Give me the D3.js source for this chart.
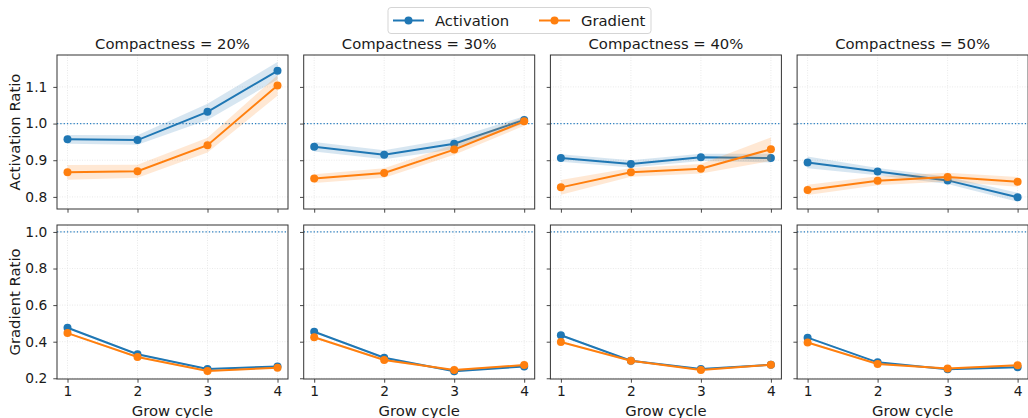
<!DOCTYPE html>
<html>
<head>
<meta charset="utf-8">
<script src="https://cdn.jsdelivr.net/npm/d3@7"></script>
<style>
    body { margin: 0; background: #fff; }
    svg { font-family: "DejaVu Sans", sans-serif; }
</style>
</head>
<body>
<div id="chart"></div>
<script>
// grow cycles and compactness settings
const cycles = [1, 2, 3, 4];
const compactness = ["20%", "30%", "40%", "50%"];
const seriesNames = ["Activation", "Gradient"];

// top row: Activation Ratio (mean and half band width per panel)
const actRatioActivation = [
    [0.957, 0.955, 1.032, 1.144],
    [0.937, 0.915, 0.945, 1.010],
    [0.906, 0.890, 0.908, 0.906],
    [0.894, 0.869, 0.845, 0.799]
];
const actRatioActivationErr = [
    [0.012, 0.013, 0.022, 0.024],
    [0.013, 0.012, 0.015, 0.010],
    [0.010, 0.010, 0.010, 0.012],
    [0.016, 0.010, 0.010, 0.012]
];
const actRatioGradient = [
    [0.867, 0.870, 0.941, 1.104],
    [0.850, 0.865, 0.929, 1.006],
    [0.826, 0.867, 0.877, 0.930],
    [0.819, 0.844, 0.854, 0.841]
];
const actRatioGradientErr = [
    [0.020, 0.018, 0.020, 0.028],
    [0.012, 0.013, 0.014, 0.012],
    [0.020, 0.012, 0.013, 0.032],
    [0.014, 0.012, 0.012, 0.013]
];

// bottom row: Gradient Ratio
const gradRatioActivation = [
    [0.476, 0.331, 0.251, 0.265],
    [0.454, 0.312, 0.238, 0.265],
    [0.435, 0.296, 0.251, 0.274],
    [0.422, 0.287, 0.249, 0.260]
];
const gradRatioActivationErr = [
    [0.005, 0.005, 0.004, 0.004],
    [0.005, 0.005, 0.004, 0.004],
    [0.005, 0.004, 0.004, 0.004],
    [0.005, 0.004, 0.004, 0.004]
];
const gradRatioGradient = [
    [0.447, 0.316, 0.240, 0.258],
    [0.424, 0.300, 0.245, 0.272],
    [0.398, 0.296, 0.245, 0.274],
    [0.396, 0.278, 0.254, 0.271]
];
const gradRatioGradientErr = [
    [0.005, 0.005, 0.004, 0.004],
    [0.005, 0.005, 0.004, 0.004],
    [0.005, 0.004, 0.004, 0.004],
    [0.005, 0.004, 0.004, 0.004]
];

const actRatioTicks = [0.8, 0.9, 1.0, 1.1];
const gradRatioTicks = [0.2, 0.4, 0.6, 0.8, 1.0];

const colors = ["#1f77b4", "#ff7f0e"];

const W = 1028, H = 418;
const svg = d3.select("#chart").append("svg")
    .attr("width", W)
    .attr("height", H);

const panelW = 231, panelStep = 246.7;
const rows = [
    {
        top: 55, height: 154, domain: [0.767, 1.187], ticks: actRatioTicks,
        label: "Activation Ratio",
        series: [[actRatioActivation, actRatioActivationErr], [actRatioGradient, actRatioGradientErr]],
        xLabels: false
    },
    {
        top: 225, height: 154, domain: [0.196, 1.038], ticks: gradRatioTicks,
        label: "Gradient Ratio",
        series: [[gradRatioActivation, gradRatioActivationErr], [gradRatioGradient, gradRatioGradientErr]],
        xLabels: true
    }
];

rows.forEach((row, r) => {
    const y = d3.scaleLinear().domain(row.domain).range([row.top + row.height, row.top]);

    compactness.forEach((comp, p) => {
        const left = 57 + p * panelStep;
        const x = d3.scaleLinear().domain([0.85, 4.15]).range([left, left + panelW]);
        const g = svg.append("g");

        // grid
        g.append("g").selectAll("line.gx")
            .data(cycles).enter().append("line")
            .attr("x1", d => x(d)).attr("x2", d => x(d))
            .attr("y1", row.top).attr("y2", row.top + row.height)
            .attr("stroke", "#e3e3e3").attr("stroke-width", 0.8)
            .attr("stroke-dasharray", "1,1.5");
        g.append("g").selectAll("line.gy")
            .data(row.ticks).enter().append("line")
            .attr("x1", left).attr("x2", left + panelW)
            .attr("y1", d => y(d)).attr("y2", d => y(d))
            .attr("stroke", "#e3e3e3").attr("stroke-width", 0.8)
            .attr("stroke-dasharray", "1,1.5");

        // reference line at 1.0
        g.append("line")
            .attr("x1", left).attr("x2", left + panelW)
            .attr("y1", y(1.0)).attr("y2", y(1.0))
            .attr("stroke", "#2b7fc0").attr("stroke-width", 1.3)
            .attr("stroke-dasharray", "1.3,2");

        row.series.forEach(([vals, errs], s) => {
            const pts = cycles.map((c, i) => ({c: c, v: vals[p][i], e: errs[p][i]}));

            const area = d3.area()
                .x(d => x(d.c))
                .y0(d => y(d.v - d.e))
                .y1(d => y(d.v + d.e));
            g.append("path")
                .datum(pts)
                .attr("d", area)
                .attr("fill", colors[s])
                .attr("fill-opacity", 0.18);

            const line = d3.line().x(d => x(d.c)).y(d => y(d.v));
            g.append("path")
                .datum(pts)
                .attr("d", line)
                .attr("fill", "none")
                .attr("stroke", colors[s])
                .attr("stroke-width", 2);

            g.selectAll(null)
                .data(pts).enter().append("circle")
                .attr("cx", d => x(d.c))
                .attr("cy", d => y(d.v))
                .attr("r", 4)
                .attr("fill", colors[s]);
        });

        // axes
        const xAxis = d3.axisBottom(x).tickValues(cycles).tickSize(3.7).tickPadding(4)
            .tickFormat(row.xLabels ? d3.format("d") : "");
        const xg = g.append("g")
            .attr("transform", `translate(0,${row.top + row.height})`)
            .call(xAxis);

        const yAxis = d3.axisLeft(y).tickValues(row.ticks).tickSize(3.7).tickPadding(6)
            .tickFormat(p === 0 ? d3.format(".1f") : "");
        const yg = g.append("g")
            .attr("transform", `translate(${left},0)`)
            .call(yAxis);

        [xg, yg].forEach(a => {
            a.select(".domain").remove();
            a.selectAll(".tick line").attr("stroke", "#333").attr("stroke-width", 0.9);
            a.selectAll(".tick text")
                .attr("fill", "#1a1a1a")
                .style("font-size", "13.8px")
                .style("font-family", "DejaVu Sans");
        });

        // frame
        g.append("rect")
            .attr("x", left).attr("y", row.top)
            .attr("width", panelW).attr("height", row.height)
            .attr("fill", "none")
            .attr("stroke", "#333").attr("stroke-width", 1);

        if (r === 0) {
            svg.append("text")
                .attr("x", left + panelW / 2)
                .attr("y", 49)
                .attr("text-anchor", "middle")
                .style("font-size", "14.8px")
                .attr("fill", "#1a1a1a")
                .text(`Compactness = ${comp}`);
        } else {
            svg.append("text")
                .attr("x", left + panelW / 2)
                .attr("y", 416)
                .attr("text-anchor", "middle")
                .style("font-size", "14.8px")
                .attr("fill", "#1a1a1a")
                .text("Grow cycle");
        }
    });

    svg.append("text")
        .attr("transform", `translate(20,${row.top + row.height / 2}) rotate(-90)`)
        .attr("text-anchor", "middle")
        .style("font-size", "14.8px")
        .attr("fill", "#1a1a1a")
        .text(row.label);
});

// legend
const legend = svg.append("g");
legend.append("rect")
    .attr("x", 388).attr("y", 7.5)
    .attr("width", 263).attr("height", 26)
    .attr("rx", 3)
    .attr("fill", "#fff")
    .attr("stroke", "#d0d0d0").attr("stroke-width", 0.9);

const legendX = [393, 539];
seriesNames.forEach((name, i) => {
    const lx = legendX[i];
    legend.append("line")
        .attr("x1", lx).attr("x2", lx + 31)
        .attr("y1", 20.5).attr("y2", 20.5)
        .attr("stroke", colors[i]).attr("stroke-width", 2);
    legend.append("circle")
        .attr("cx", lx + 15.5).attr("cy", 20.5).attr("r", 4)
        .attr("fill", colors[i]);
    legend.append("text")
        .attr("x", lx + 42).attr("y", 25.7)
        .style("font-size", "14.8px")
        .attr("fill", "#1a1a1a")
        .text(name);
});
</script>
</body>
</html>
